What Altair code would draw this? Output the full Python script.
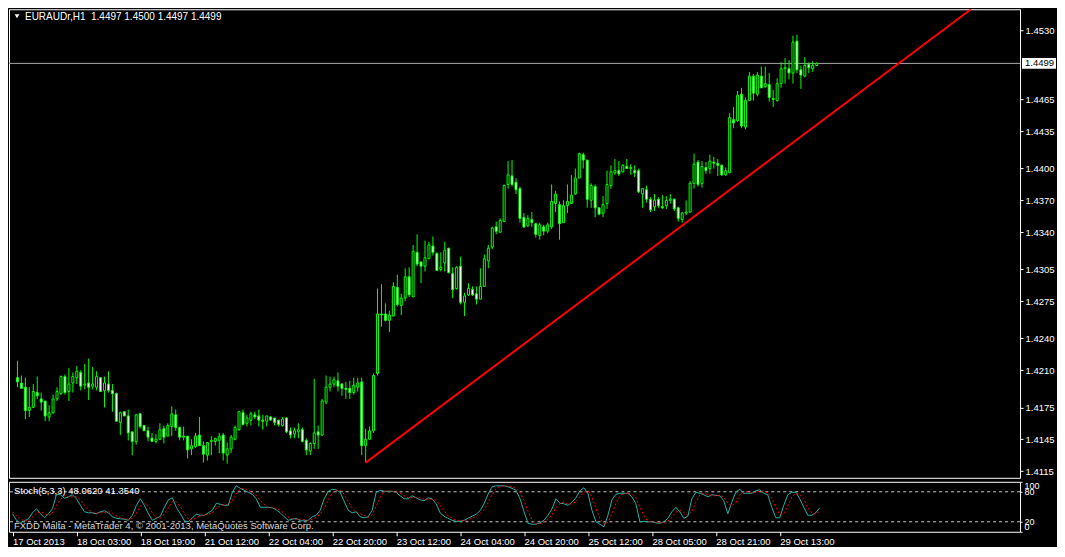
import altair as alt
import pandas as pd

# ---------------- data (EURAUDr, H1) ----------------
OPEN = [1.4203,1.4198,1.4194,1.4172,1.4175,1.4189,1.4183,1.4181,1.4166,1.4170,
        1.4183,1.4188,1.4204,1.4190,1.4198,1.4203,1.4208,1.4196,1.4198,1.4195,
        1.4194,1.4203,1.4191,1.4197,1.4191,1.4188,1.4161,1.4171,1.4167,1.4152,
        1.4143,1.4169,1.4158,1.4153,1.4146,1.4143,1.4145,1.4155,1.4148,1.4157,
        1.4168,1.4156,1.4147,1.4148,1.4136,1.4138,1.4149,1.4139,1.4130,1.4143,
        1.4143,1.4144,1.4149,1.4130,1.4136,1.4145,1.4154,1.4170,1.4160,1.4163,
        1.4168,1.4167,1.4163,1.4162,1.4166,1.4165,1.4163,1.4158,1.4165,1.4153,
        1.4150,1.4152,1.4154,1.4144,1.4134,1.4141,1.4152,1.4149,1.4180,1.4194,
        1.4197,1.4200,1.4197,1.4193,1.4193,1.4189,1.4194,1.4199,1.4139,1.4145,
        1.4153,1.4207,1.4263,1.4263,1.4257,1.4261,1.4288,1.4271,1.4278,1.4298,
        1.4279,1.4321,1.4312,1.4308,1.4315,1.4327,1.4320,1.4305,1.4311,1.4325,
        1.4301,1.4287,1.4308,1.4274,1.4281,1.4286,1.4282,1.4277,1.4289,1.4313,
        1.4326,1.4345,1.4340,1.4350,1.4385,1.4393,1.4387,1.4381,1.4354,1.4346,
        1.4352,1.4348,1.4337,1.4345,1.4341,1.4345,1.4367,1.4366,1.4349,1.4365,
        1.4367,1.4376,1.4391,1.4413,1.4408,1.4370,1.4383,1.4363,1.4358,1.4367,
        1.4384,1.4396,1.4398,1.4397,1.4402,1.4400,1.4398,1.4398,1.4376,1.4380,
        1.4371,1.4364,1.4371,1.4364,1.4365,1.4370,1.4371,1.4363,1.4352,1.4358,
        1.4359,1.4386,1.4406,1.4386,1.4401,1.4400,1.4406,1.4405,1.4403,1.4394,
        1.4396,1.4446,1.4445,1.4470,1.4439,1.4464,1.4487,1.4470,1.4487,1.4477,
        1.4479,1.4466,1.4464,1.4480,1.4494,1.4494,1.4490,1.4520,1.4493,1.4487,
        1.4498,1.4494,1.4497]
HIGH = [1.4219,1.4205,1.4203,1.4194,1.4197,1.4204,1.4189,1.4181,1.4177,1.4187,
        1.4194,1.4205,1.4206,1.4212,1.4208,1.4214,1.4210,1.4216,1.4221,1.4213,
        1.4209,1.4203,1.4204,1.4209,1.4197,1.4189,1.4171,1.4171,1.4173,1.4152,
        1.4169,1.4169,1.4158,1.4157,1.4151,1.4150,1.4160,1.4158,1.4160,1.4176,
        1.4173,1.4157,1.4157,1.4148,1.4145,1.4151,1.4166,1.4143,1.4142,1.4148,
        1.4146,1.4151,1.4151,1.4142,1.4149,1.4158,1.4171,1.4173,1.4168,1.4171,
        1.4171,1.4173,1.4168,1.4167,1.4167,1.4165,1.4163,1.4166,1.4166,1.4156,
        1.4156,1.4160,1.4156,1.4146,1.4142,1.4202,1.4158,1.4183,1.4205,1.4204,
        1.4204,1.4208,1.4198,1.4199,1.4200,1.4203,1.4203,1.4203,1.4155,1.4157,
        1.4207,1.4287,1.4291,1.4273,1.4266,1.4293,1.4300,1.4282,1.4306,1.4307,
        1.4328,1.4338,1.4312,1.4332,1.4331,1.4336,1.4321,1.4321,1.4331,1.4325,
        1.4307,1.4308,1.4317,1.4283,1.4292,1.4289,1.4289,1.4306,1.4319,1.4328,
        1.4345,1.4350,1.4353,1.4385,1.4407,1.4408,1.4391,1.4383,1.4358,1.4356,
        1.4359,1.4349,1.4349,1.4347,1.4349,1.4385,1.4379,1.4369,1.4370,1.4385,
        1.4394,1.4400,1.4415,1.4415,1.4408,1.4386,1.4385,1.4363,1.4374,1.4398,
        1.4403,1.4409,1.4407,1.4404,1.4409,1.4404,1.4403,1.4400,1.4381,1.4384,
        1.4373,1.4376,1.4373,1.4375,1.4374,1.4376,1.4372,1.4364,1.4359,1.4370,
        1.4388,1.4414,1.4408,1.4407,1.4406,1.4413,1.4411,1.4409,1.4404,1.4401,
        1.4452,1.4458,1.4473,1.4476,1.4467,1.4491,1.4489,1.4491,1.4496,1.4496,
        1.4490,1.4474,1.4485,1.4500,1.4504,1.4502,1.4525,1.4526,1.4497,1.4505,
        1.4500,1.4501,1.4500]
LOW = [1.4194,1.4193,1.4164,1.4166,1.4175,1.4183,1.4172,1.4162,1.4162,1.4169,
       1.4181,1.4187,1.4187,1.4181,1.4189,1.4197,1.4191,1.4192,1.4182,1.4192,
       1.4191,1.4190,1.4175,1.4189,1.4171,1.4162,1.4149,1.4167,1.4144,1.4130,
       1.4140,1.4155,1.4153,1.4143,1.4143,1.4141,1.4144,1.4141,1.4148,1.4148,
       1.4153,1.4144,1.4144,1.4127,1.4130,1.4137,1.4139,1.4123,1.4125,1.4130,
       1.4139,1.4132,1.4125,1.4122,1.4132,1.4144,1.4153,1.4158,1.4157,1.4158,
       1.4164,1.4157,1.4154,1.4157,1.4163,1.4158,1.4157,1.4157,1.4151,1.4146,
       1.4146,1.4146,1.4142,1.4130,1.4130,1.4136,1.4136,1.4148,1.4178,1.4190,
       1.4194,1.4190,1.4186,1.4183,1.4183,1.4187,1.4190,1.4130,1.4123,1.4145,
       1.4151,1.4205,1.4251,1.4256,1.4246,1.4261,1.4270,1.4262,1.4275,1.4279,
       1.4279,1.4308,1.4292,1.4303,1.4315,1.4318,1.4304,1.4303,1.4303,1.4301,
       1.4278,1.4286,1.4272,1.4261,1.4280,1.4280,1.4272,1.4277,1.4289,1.4306,
       1.4324,1.4338,1.4340,1.4350,1.4381,1.4383,1.4376,1.4349,1.4344,1.4345,
       1.4345,1.4335,1.4333,1.4337,1.4339,1.4343,1.4359,1.4333,1.4349,1.4358,
       1.4367,1.4375,1.4391,1.4400,1.4363,1.4363,1.4354,1.4356,1.4354,1.4362,
       1.4381,1.4394,1.4393,1.4396,1.4400,1.4394,1.4392,1.4377,1.4363,1.4368,
       1.4359,1.4360,1.4363,1.4362,1.4362,1.4367,1.4360,1.4350,1.4349,1.4356,
       1.4358,1.4381,1.4383,1.4382,1.4395,1.4395,1.4400,1.4393,1.4393,1.4393,
       1.4396,1.4438,1.4444,1.4438,1.4437,1.4464,1.4464,1.4468,1.4476,1.4476,
       1.4463,1.4458,1.4463,1.4476,1.4480,1.4484,1.4480,1.4490,1.4475,1.4486,
       1.4490,1.4491,1.4497]
CLOSE = [1.4199,1.4193,1.4172,1.4175,1.4190,1.4186,1.4180,1.4167,1.4170,1.4183,
         1.4190,1.4204,1.4189,1.4197,1.4204,1.4209,1.4195,1.4197,1.4194,1.4197,
         1.4204,1.4190,1.4198,1.4191,1.4188,1.4162,1.4170,1.4167,1.4151,1.4143,
         1.4168,1.4157,1.4153,1.4147,1.4143,1.4145,1.4154,1.4147,1.4158,1.4169,
         1.4156,1.4147,1.4148,1.4135,1.4139,1.4148,1.4139,1.4131,1.4142,1.4144,
         1.4146,1.4148,1.4132,1.4136,1.4147,1.4156,1.4171,1.4159,1.4165,1.4169,
         1.4166,1.4163,1.4162,1.4167,1.4163,1.4161,1.4159,1.4164,1.4152,1.4149,
         1.4153,1.4154,1.4143,1.4135,1.4141,1.4151,1.4149,1.4181,1.4194,1.4197,
         1.4201,1.4195,1.4193,1.4192,1.4189,1.4196,1.4198,1.4139,1.4145,1.4153,
         1.4205,1.4263,1.4262,1.4257,1.4262,1.4289,1.4272,1.4278,1.4298,1.4281,
         1.4322,1.4310,1.4308,1.4316,1.4328,1.4321,1.4304,1.4307,1.4323,1.4302,
         1.4286,1.4307,1.4274,1.4280,1.4287,1.4281,1.4277,1.4289,1.4315,1.4325,
         1.4344,1.4341,1.4351,1.4384,1.4394,1.4385,1.4380,1.4353,1.4345,1.4353,
         1.4349,1.4338,1.4347,1.4341,1.4347,1.4369,1.4376,1.4348,1.4365,1.4369,
         1.4375,1.4391,1.4414,1.4408,1.4371,1.4384,1.4363,1.4357,1.4366,1.4385,
         1.4397,1.4398,1.4395,1.4403,1.4400,1.4401,1.4396,1.4378,1.4381,1.4371,
         1.4361,1.4370,1.4365,1.4363,1.4370,1.4371,1.4362,1.4353,1.4358,1.4359,
         1.4386,1.4404,1.4385,1.4402,1.4398,1.4407,1.4405,1.4403,1.4394,1.4398,
         1.4448,1.4443,1.4469,1.4440,1.4464,1.4487,1.4471,1.4488,1.4476,1.4480,
         1.4467,1.4465,1.4480,1.4494,1.4495,1.4490,1.4519,1.4493,1.4488,1.4497,
         1.4495,1.4497,1.4499]

STOCH_MAIN = [36,23,18,22,26,38,46,36,28,36,46,75,74,67,70,74,66,53,40,38,
              38,36,40,42,38,30,27,26,25,23,33,53,66,53,36,23,27,31,49,64,
              68,49,36,22,20,28,35,33,33,38,43,57,55,53,53,79,92,87,83,79,
              75,66,49,49,49,48,44,38,30,23,25,27,22,22,23,30,33,43,66,81,
              85,84,79,61,43,38,40,30,28,30,43,79,83,81,81,81,79,72,66,66,
              72,68,64,62,68,66,56,38,31,27,23,21,21,23,27,31,35,42,56,75,
              90,92,92,92,90,87,83,66,40,17,15,15,18,23,33,46,66,57,56,53,
              59,68,82,88,77,43,20,15,10,33,64,75,77,77,77,70,56,20,21,20,
              20,18,17,20,27,40,49,40,27,31,66,79,77,74,70,74,73,72,62,36,
              59,79,85,77,77,77,82,84,77,74,49,28,28,53,74,79,79,66,49,33,
              33,38,48]
STOCH_SIGNAL = [40,32,26,21,22,29,37,40,37,33,37,52,65,72,70,70,70,64,53,44,
                39,37,38,39,40,37,32,28,26,25,27,36,51,57,52,37,29,27,36,48,
                60,60,51,36,26,23,28,32,34,35,38,46,52,55,54,62,75,86,87,83,
                79,73,63,55,49,49,47,43,37,30,26,25,25,24,22,25,29,35,47,63,
                77,83,83,75,61,47,40,36,33,29,34,51,68,81,82,81,80,77,72,68,
                68,69,68,65,65,65,63,53,42,32,27,24,22,22,24,27,31,36,44,58,
                74,86,91,92,91,90,87,79,63,41,24,16,16,19,25,34,48,56,60,55,
                56,60,70,79,82,69,47,26,15,19,36,57,72,76,77,75,68,49,32,20,
                20,19,18,18,21,29,39,43,39,33,41,59,74,77,74,73,72,73,69,57,
                52,58,74,80,80,77,79,81,81,78,67,50,35,36,52,69,77,75,65,49,
                38,35,41]

TIME_LABELS = ["17 Oct 2013", "18 Oct 03:00", "18 Oct 19:00", "21 Oct 12:00",
               "22 Oct 04:00", "22 Oct 20:00", "23 Oct 12:00", "24 Oct 04:00",
               "24 Oct 20:00", "25 Oct 12:00", "28 Oct 05:00", "28 Oct 21:00",
               "29 Oct 13:00"]
TIME_LABEL_BARS = [0, 16, 32, 48, 64, 80, 96, 112, 128, 144, 160, 176, 192]
PRICE_TICKS = [1.4530, 1.4465, 1.4435, 1.4400, 1.4370, 1.4340, 1.4305,
               1.4275, 1.4240, 1.4210, 1.4175, 1.4145, 1.4115]
STOCH_TICKS = [0, 20, 80, 100]
STOCH_LEVELS = [20, 80]
TREND_BARS = [88, 241]
TREND_PRICES = [1.4123, 1.4550]
BID = 1.4499
TITLE = "EURAUDr,H1\u00a0\u00a01.4497 1.4500 1.4497 1.4499"
STOCH_TITLE = "Stoch(5,3,3) 48.0620 41.3540"
COPYRIGHT = "FXDD Malta - MetaTrader 4, \u00a9 2001-2013, MetaQuotes Software Corp."

# ---------------- tables ----------------
n = len(CLOSE)
df = pd.DataFrame({"bar": list(range(n)), "open": OPEN, "high": HIGH,
                   "low": LOW, "close": CLOSE})
df["body_lo"] = df[["open", "close"]].min(axis=1)
df["body_hi"] = df[["open", "close"]].max(axis=1)
df["dir"] = ["bull" if c >= o else "bear" for o, c in zip(OPEN, CLOSE)]
stoch_df = pd.DataFrame({"bar": list(range(n)), "k": STOCH_MAIN, "d": STOCH_SIGNAL})
trend_df = pd.DataFrame({"bar": TREND_BARS, "price": TREND_PRICES})
bid_df = pd.DataFrame({"price": [BID], "label": [f"{BID:.4f}"]})
level_df = pd.DataFrame({"level": STOCH_LEVELS})

FONT = "Liberation Sans"
LIME = "#00FF00"
W = 1012
H_MAIN = 469
H_ST = 50

xscale = alt.Scale(domain=[-0.875, 252.125], nice=False, zero=False)
yscale = alt.Scale(domain=[1.41087, 1.4550], nice=False, zero=False)
sscale = alt.Scale(domain=[0, 100], nice=False, zero=False)

price_axis = alt.Axis(orient="right", values=PRICE_TICKS, format=".4f", title=None,
                      labelColor="#FFFFFF", tickColor="#FFFFFF", tickSize=3,
                      domain=False, grid=False, labelFont=FONT, labelFontSize=9.5,
                      labelPadding=2, labelOverlap=False)
xnone = alt.X("bar:Q", scale=xscale, axis=None)

wicks = alt.Chart(df).mark_rule(color=LIME, strokeWidth=1).encode(
    x=xnone,
    y=alt.Y("low:Q", scale=yscale, axis=price_axis),
    y2="high:Q",
)
bodies = alt.Chart(df).mark_bar(width=2, stroke=LIME, strokeWidth=1).encode(
    x=xnone,
    y=alt.Y("body_lo:Q", scale=yscale, axis=price_axis),
    y2="body_hi:Q",
    fill=alt.Fill("dir:N", scale=alt.Scale(domain=["bull", "bear"],
                                           range=["#000000", "#FFFFFF"]),
                  legend=None),
)
bid_line = alt.Chart(bid_df).mark_rule(color="#A8A8A8", strokeWidth=1).encode(
    y=alt.Y("price:Q", scale=yscale, axis=price_axis),
)
trend = alt.Chart(trend_df).mark_line(color="#FF0000", strokeWidth=2, clip=True).encode(
    x=xnone,
    y=alt.Y("price:Q", scale=yscale, axis=price_axis),
)
bid_box = alt.Chart(bid_df).mark_point(
    shape="M-1,-0.32L1,-0.32L1,0.32L-1,0.32Z", size=1156, filled=True,
    color="#FFFFFF", opacity=1, strokeWidth=0
).encode(
    x=alt.value(W + 19),
    y=alt.Y("price:Q", scale=yscale, axis=price_axis),
)
bid_text = alt.Chart(bid_df).mark_text(
    color="#000000", font=FONT, fontSize=9.5, align="left", baseline="middle"
).encode(
    x=alt.value(W + 5),
    y=alt.Y("price:Q", scale=yscale, axis=price_axis),
    text="label:N",
)
title_df = pd.DataFrame({"t": [TITLE]})
title_txt = alt.Chart(title_df).mark_text(
    color="#FFFFFF", font=FONT, fontSize=10, align="left", baseline="middle"
).encode(x=alt.value(16), y=alt.value(8), text="t:N")
title_tri = alt.Chart(title_df).mark_point(
    shape="triangle-down", size=22, filled=True, color="#FFFFFF", opacity=1
).encode(x=alt.value(8), y=alt.value(7))

main = alt.layer(bid_line, wicks, bodies, trend, bid_box, bid_text,
                 title_tri, title_txt).properties(width=W, height=H_MAIN)

# ---------------- stochastic panel ----------------
bars_js = "[" + ",".join(str(b) for b in TIME_LABEL_BARS) + "]"
labels_js = "[" + ",".join("'" + s + "'" for s in TIME_LABELS) + "]"
label_expr = f"{labels_js}[indexof({bars_js}, datum.value)]"

time_axis = alt.Axis(values=TIME_LABEL_BARS, labelExpr=label_expr, title=None,
                     labelAlign="left", labelColor="#FFFFFF", tickColor="#FFFFFF",
                     tickSize=4, domain=False, grid=False, labelFont=FONT,
                     labelFontSize=9.5, labelPadding=1, labelOverlap=False,
                     labelFlush=False)
stoch_axis = alt.Axis(orient="right", values=STOCH_TICKS, title=None,
                      labelColor="#FFFFFF", tickColor="#FFFFFF", tickSize=2,
                      domain=False, grid=False, labelFont=FONT, labelFontSize=9,
                      labelPadding=2, labelOverlap=False, labelFlush=True)

levels = alt.Chart(level_df).mark_rule(color="#C8C8C8", strokeDash=[3, 3],
                                       strokeWidth=1).encode(
    y=alt.Y("level:Q", scale=sscale, axis=stoch_axis),
)
k_line = alt.Chart(stoch_df).mark_line(color="#20B2AA", strokeWidth=1).encode(
    x=alt.X("bar:Q", scale=xscale, axis=time_axis),
    y=alt.Y("k:Q", scale=sscale, axis=stoch_axis),
)
d_line = alt.Chart(stoch_df).mark_line(color="#FF0000", strokeWidth=1,
                                       strokeDash=[2, 2]).encode(
    x=alt.X("bar:Q", scale=xscale, axis=time_axis),
    y=alt.Y("d:Q", scale=sscale, axis=stoch_axis),
)
st_title = alt.Chart(pd.DataFrame({"t": [STOCH_TITLE]})).mark_text(
    color="#FFFFFF", font=FONT, fontSize=9.5, align="left", baseline="middle"
).encode(x=alt.value(5), y=alt.value(9), text="t:N")
copyright_txt = alt.Chart(pd.DataFrame({"t": [COPYRIGHT]})).mark_text(
    color="#D8D8D8", font=FONT, fontSize=9.5, align="left", baseline="middle"
).encode(x=alt.value(5), y=alt.value(44), text="t:N")

stoch = alt.layer(levels, k_line, d_line, st_title, copyright_txt).properties(
    width=W, height=H_ST)

chart = alt.vconcat(main, stoch, spacing=2).properties(
    padding={"left": 0, "top": 0, "right": 0, "bottom": 0}
).configure(background="#000000").configure_view(stroke="#FFFFFF", strokeWidth=1)

chart.save("out.html", embed_options={"renderer": "svg", "actions": False})
